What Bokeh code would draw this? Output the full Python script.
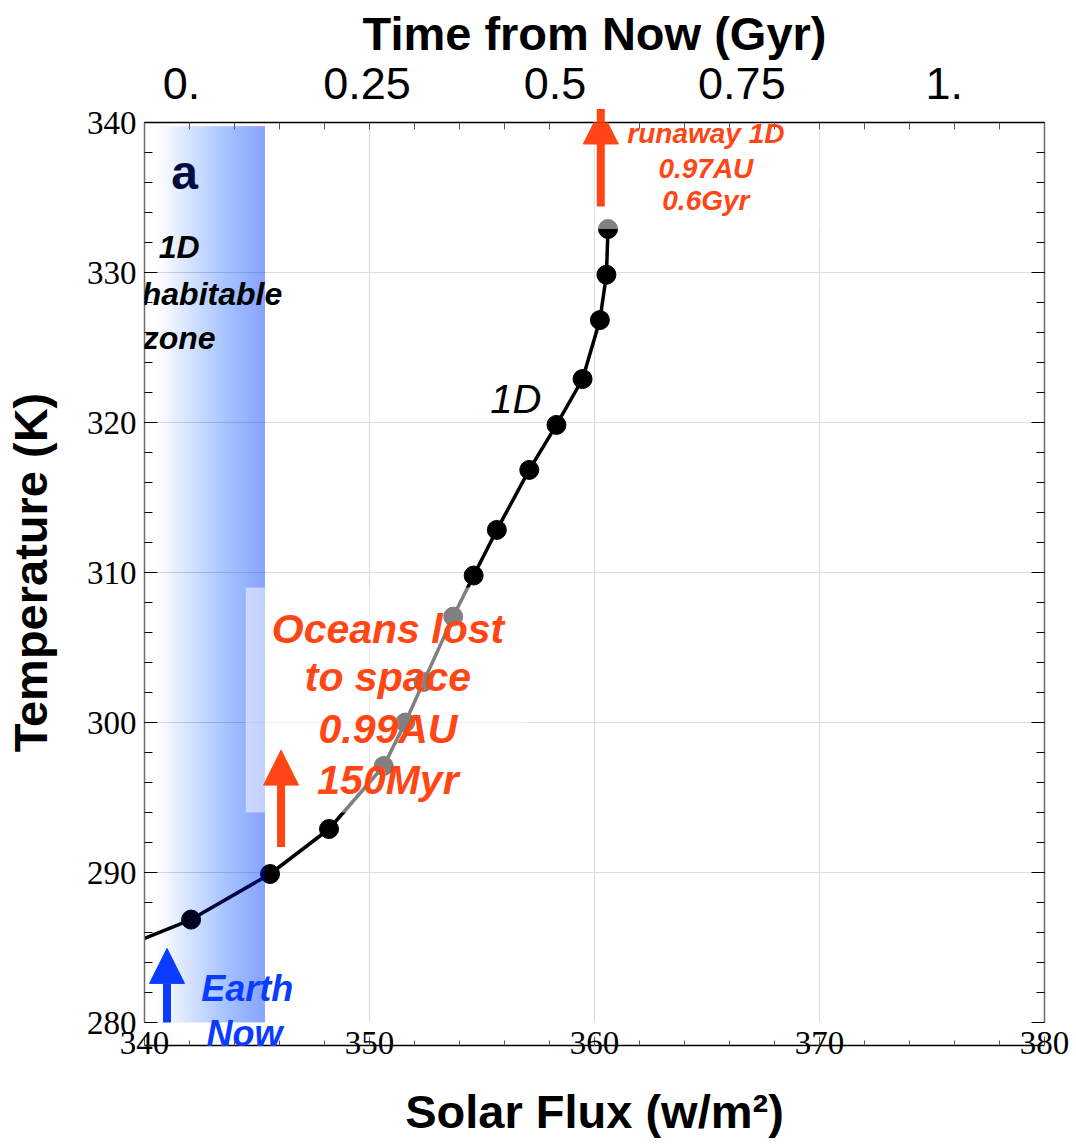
import numpy as np
from bokeh.plotting import figure
from bokeh.models import (Range1d, LinearAxis, FixedTicker, SingleIntervalTicker,
                          Label, Arrow, NormalHead, Title)
from bokeh.core.properties import value
from bokeh.embed import file_html
from bokeh.resources import INLINE

# 1D climate model: surface temperature against incident solar flux
flux = [337.2, 342.07, 345.58, 348.2, 350.63, 351.59, 352.4, 353.72, 354.63,
        355.66, 357.1, 358.31, 359.47, 360.24, 360.53, 360.6]
temperature = [283.9, 286.86, 289.9, 292.9, 297.1, 300.0, 302.7, 307.06, 309.8,
               312.84, 316.84, 319.84, 322.9, 326.83, 329.85, 332.9]

# 1D habitable zone band
hz_flux = [340.6, 345.36]
hz_temp = [279.8, 339.75]

# top axis: time from now (Gyr) at the corresponding solar flux
gyr_labels = ["0.", "0.25", "0.5", "0.75", "1."]
gyr_flux = [341.64, 349.89, 358.25, 366.55, 375.54]

# event markers (flux position, arrow tail, arrow tip)
earth_now = [341.0, 278.46, 284.94]
ocean_loss = [346.07, 291.7, 298.16]
runaway = [360.28, 334.4, 340.9]

ORANGE = "#ff4614"
BLUE = "#0a3cff"
SANS = "Liberation Sans"
SERIF = "Liberation Serif"

p = figure(width=1076, height=1148, x_range=Range1d(340, 380), y_range=Range1d(280, 340),
           output_backend="svg", toolbar_location=None,
           min_border_left=143, min_border_right=32, min_border_top=122, min_border_bottom=126,
           background_fill_color="white", border_fill_color="white", outline_line_color=None)

# "Now" sits just under the frame, so it lives in the bottom panel next to the axis
now_title = Title(text="Now", align="left", vertical_align="top", offset=62, standoff=-20,
                  text_font=SANS, text_font_style="bold italic", text_font_size="36px",
                  text_color=BLUE)
p.below = [now_title] + list(p.below)

# bottom axis
xa = p.xaxis[0]
xa.ticker = SingleIntervalTicker(interval=10, num_minor_ticks=5)
xa.axis_label = "Solar Flux (w/m²)"
xa.axis_label_text_font = SANS
xa.axis_label_text_font_style = "bold"
xa.axis_label_text_font_size = "47px"
xa.axis_label_text_color = "black"
xa.axis_label_standoff = 28
xa.major_label_text_font = SERIF
xa.major_label_text_font_size = "33px"
xa.major_label_text_color = "black"
xa.major_label_standoff = -14
xa.major_tick_in, xa.major_tick_out = 9, 0
xa.minor_tick_in, xa.minor_tick_out = 5, 0
xa.major_tick_line_color = "#555555"
xa.minor_tick_line_color = "#555555"
xa.axis_line_color = "black"
xa.axis_line_width = 1.5

# left axis
ya = p.yaxis[0]
ya.ticker = SingleIntervalTicker(interval=10, num_minor_ticks=5)
ya.axis_label = "Temperature (K)"
ya.axis_label_text_font = SANS
ya.axis_label_text_font_style = "bold"
ya.axis_label_text_font_size = "47px"
ya.axis_label_text_color = "black"
ya.axis_label_standoff = 27
ya.major_label_text_font = SERIF
ya.major_label_text_font_size = "33px"
ya.major_label_text_color = "black"
ya.major_label_standoff = 8
ya.major_tick_in, ya.major_tick_out = 13, 0
ya.minor_tick_in, ya.minor_tick_out = 8, 0
ya.major_tick_line_color = "black"
ya.minor_tick_line_color = "black"
ya.axis_line_color = "#6e6e6e"
ya.axis_line_width = 1.5

# top axis: time from now
top = LinearAxis(
    ticker=FixedTicker(ticks=gyr_flux, minor_ticks=list(np.arange(340, 382, 2))),
    major_label_overrides=dict(zip(gyr_flux, gyr_labels)),
    axis_label="Time from Now (Gyr)",
    axis_label_text_font=SANS, axis_label_text_font_style="bold",
    axis_label_text_font_size="47px", axis_label_text_color="black",
    axis_label_standoff=5,
    major_label_text_font=SANS, major_label_text_font_size="45px",
    major_label_text_color="black", major_label_standoff=24,
    major_tick_line_color=None, major_tick_in=0, major_tick_out=0,
    minor_tick_in=7, minor_tick_out=0, minor_tick_line_color="#555555",
    axis_line_color="black", axis_line_width=1.5)
p.add_layout(top, "above")

# right frame edge with ticks only
right = LinearAxis(
    ticker=SingleIntervalTicker(interval=10, num_minor_ticks=5),
    major_label_text_font_size="0px", major_label_text_color=None,
    major_label_standoff=0,
    major_tick_in=13, major_tick_out=0, minor_tick_in=8, minor_tick_out=0,
    major_tick_line_color="black", minor_tick_line_color="black",
    axis_line_color="#6e6e6e", axis_line_width=1.5)
p.add_layout(right, "right")

p.xgrid.grid_line_color = "#dcdcdc"
p.ygrid.grid_line_color = "#dcdcdc"
p.xgrid.grid_line_width = 1.2
p.ygrid.grid_line_width = 1.2

# panel letter (sits beneath the band tint)
p.text(x=[341.78], y=[336.7], text=["a"], text_font=value(SANS), text_font_style="bold",
       text_font_size="48px", text_align="center", text_baseline="alphabetic",
       text_color="#0a0c26")

# model curve
p.line(flux, temperature, line_width=3.5, line_color="black")
p.scatter(flux, temperature, size=19, marker="circle", fill_color="black", line_color="black")

# habitable zone band: stacked translucent strips, deepening towards the inner edge
n_steps = 46
lefts = np.linspace(hz_flux[0], hz_flux[1], n_steps, endpoint=False)
p.quad(left=lefts, right=[hz_flux[1]] * n_steps, bottom=hz_temp[0], top=hz_temp[1],
       fill_color="#2a36f0", fill_alpha=0.01, line_color=None)

# translucent backing panels behind the annotations
p.quad(left=[344.5, 360.0], right=[357.0, 370.0], bottom=[294.0, 332.9], top=[309.0, 341.5],
       fill_color="white", fill_alpha=0.5, line_color=None)


def note(x, y, text, size, color="black", style="bold italic"):
    # y is the intended baseline; lift slightly to compensate the text anchor
    lift = (0.3 * size + 1.5) / 15.0
    p.add_layout(Label(x=x, y=y + lift, text=text, text_font=SANS, text_font_style=style,
                       text_font_size=f"{size}px", text_color=color, text_align="center",
                       text_baseline="alphabetic"))


note(341.54, 330.93, "1D", 32)
note(343.0, 327.8, "habitable", 32)
note(341.54, 324.9, "zone", 32)

note(356.5, 320.69, "1D", 40, style="italic")

note(350.82, 305.33, "Oceans lost", 41, ORANGE)
note(350.82, 302.13, "to space", 41, ORANGE)
note(350.82, 298.67, "0.99AU", 41, ORANGE)
note(350.82, 295.27, "150Myr", 41, ORANGE)

note(364.95, 338.6, "runaway 1D", 28, ORANGE)
note(364.95, 336.27, "0.97AU", 28, ORANGE)
note(364.95, 334.13, "0.6Gyr", 28, ORANGE)

note(344.57, 281.47, "Earth", 36, BLUE)

for (fx, y0, y1), c in ((earth_now, BLUE), (ocean_loss, ORANGE), (runaway, ORANGE)):
    p.add_layout(Arrow(end=NormalHead(size=35, fill_color=c, line_color=c, line_width=1),
                       x_start=fx, y_start=y0, x_end=fx, y_end=y1,
                       line_color=c, line_width=8))

open("out.html", "w").write(file_html(p, INLINE))
